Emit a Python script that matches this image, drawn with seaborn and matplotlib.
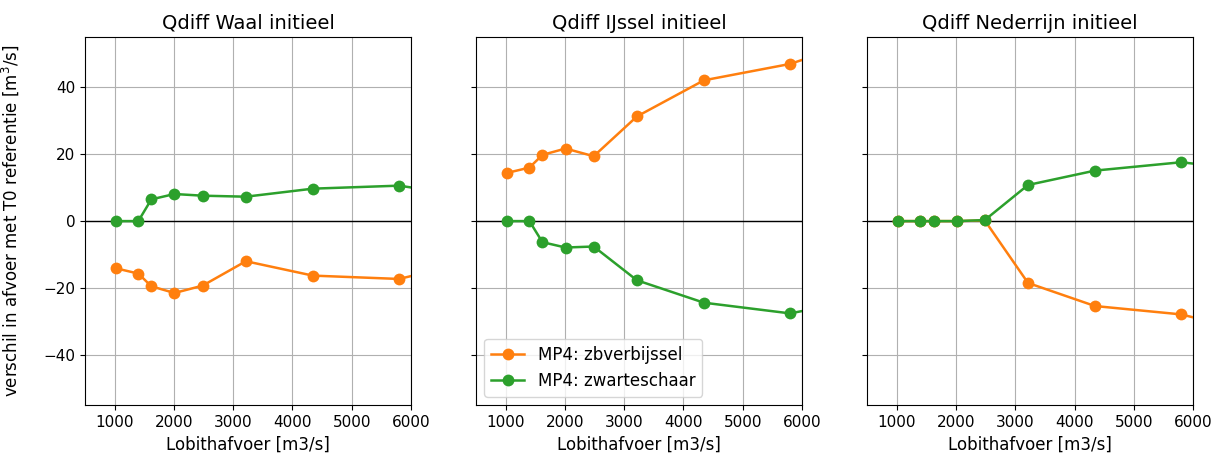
import numpy as np
import pandas as pd
import matplotlib
matplotlib.use("Agg")
import matplotlib.pyplot as plt
import seaborn as sns

# Lobith discharge [m3/s]
lobith = [1020, 1400, 1620, 2010, 2485, 3215, 4345, 5800, 8000]

panels = ["Waal", "IJssel", "Nederrijn"]
series_names = ["MP4: zbverbijssel", "MP4: zwarteschaar"]

waal_zbverbijssel = [-14.1, -15.7, -19.5, -21.5, -19.3, -12.0, -16.3, -17.3, -8.0]
waal_zwarteschaar = [0.0, 0.0, 6.5, 8.1, 7.6, 7.3, 9.7, 10.6, 4.8]

ijssel_zbverbijssel = [14.4, 16.0, 19.8, 21.7, 19.4, 31.3, 42.1, 47.0, 60.0]
ijssel_zwarteschaar = [0.0, 0.0, -6.3, -7.9, -7.6, -17.7, -24.4, -27.6, -20.0]

nederrijn_zbverbijssel = [0.0, 0.0, 0.0, 0.0, 0.2, -18.5, -25.4, -27.9, -37.5]
nederrijn_zwarteschaar = [0.0, 0.0, 0.0, 0.0, 0.3, 10.8, 15.1, 17.6, 13.2]

values = {
    "Waal": [waal_zbverbijssel, waal_zwarteschaar],
    "IJssel": [ijssel_zbverbijssel, ijssel_zwarteschaar],
    "Nederrijn": [nederrijn_zbverbijssel, nederrijn_zwarteschaar],
}

rows = []
for p in panels:
    for name, vals in zip(series_names, values[p]):
        for x, y in zip(lobith, vals):
            rows.append({"panel": p, "serie": name, "Q": x, "dQ": y})
df = pd.DataFrame(rows)

palette = {"MP4: zbverbijssel": "#ff7f0e", "MP4: zwarteschaar": "#2ca02c"}

plt.rcParams["font.family"] = ["DejaVu Sans"]
fig, axes = plt.subplots(1, 3, figsize=(12.23, 4.59), dpi=100, sharey=True)
fig.subplots_adjust(left=0.0695, right=0.9755, top=0.919, bottom=0.1176, wspace=0.2)

for i, (ax, p) in enumerate(zip(axes, panels)):
    sub = df[df.panel == p]
    ax.axhline(0, color="black", lw=1, zorder=1)
    sns.lineplot(data=sub, x="Q", y="dQ", hue="serie", palette=palette,
                 marker="o", markersize=8.5, markeredgewidth=0, lw=1.8,
                 ax=ax, legend=(i == 1), zorder=3)
    ax.set_xlim(500, 6000)
    ax.set_ylim(-55, 55)
    ax.set_xticks([1000, 2000, 3000, 4000, 5000, 6000])
    ax.set_yticks([-40, -20, 0, 20, 40])
    ax.grid(True, color="#b0b0b0", lw=0.8, zorder=0)
    ax.set_axisbelow(True)
    ax.set_title(f"Qdiff {p} initieel", fontsize=14)
    ax.set_xlabel("Lobithafvoer [m3/s]", fontsize=12)
    ax.set_ylabel("")
    for s in ax.spines.values():
        s.set_color("black")
        s.set_linewidth(0.8)
    ax.tick_params(labelsize=11)

axes[0].set_ylabel("verschil in afvoer met T0 referentie [m$^3$/s]", fontsize=12, labelpad=16)
leg = axes[1].legend(loc="lower left", fontsize=12)

fig.savefig("out.png", dpi=100)
